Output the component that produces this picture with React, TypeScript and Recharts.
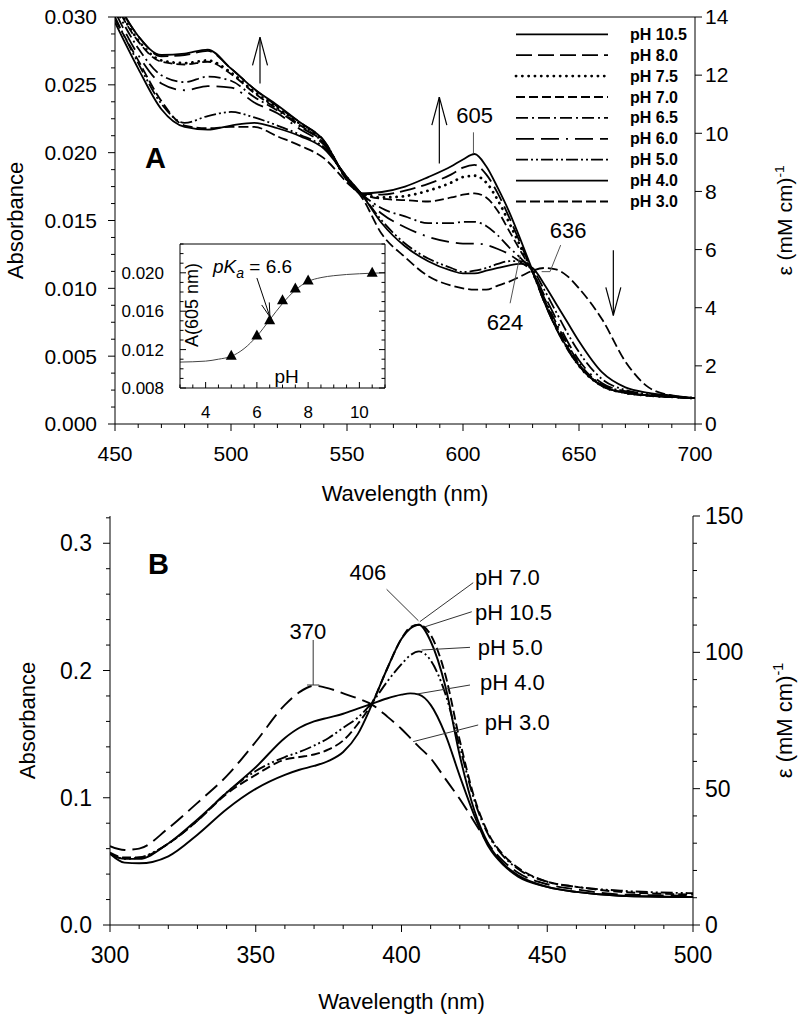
import React from 'react';
import { LineChart, Line, XAxis, YAxis, ComposedChart, Scatter } from 'recharts';

const FONT = '"Liberation Sans", Arial, Helvetica, sans-serif';

// ---------------- Panel A (visible region) ----------------
const wavelengthsA = [450, 460, 470, 480, 490, 500, 510, 520, 530, 540, 550, 556, 565, 575, 585, 595, 600, 605, 610, 615, 620, 625, 630, 635, 640, 645, 650, 660, 670, 680, 690, 700];
const absA_pH105 = [0.0314, 0.0286, 0.0272, 0.0273, 0.0276, 0.0262, 0.0247, 0.0235, 0.0222, 0.0209, 0.0180, 0.0170, 0.0171, 0.0175, 0.0182, 0.0190, 0.0195, 0.0199, 0.0190, 0.0174, 0.0156, 0.0135, 0.0113, 0.0090, 0.0071, 0.0056, 0.0043, 0.0028, 0.0023, 0.0021, 0.0020, 0.0019];
const absA_pH80 = [0.0313, 0.0286, 0.0271, 0.0272, 0.0275, 0.0262, 0.0247, 0.0234, 0.0222, 0.0209, 0.0180, 0.0170, 0.0169, 0.0172, 0.0177, 0.0184, 0.0189, 0.0191, 0.0184, 0.0170, 0.0152, 0.0132, 0.0112, 0.0090, 0.0071, 0.0055, 0.0043, 0.0028, 0.0023, 0.0021, 0.0020, 0.0019];
const absA_pH75 = [0.0311, 0.0283, 0.0268, 0.0266, 0.0268, 0.0259, 0.0245, 0.0233, 0.0221, 0.0208, 0.0180, 0.0170, 0.0167, 0.0168, 0.0172, 0.0178, 0.0182, 0.0183, 0.0178, 0.0165, 0.0148, 0.0130, 0.0112, 0.0091, 0.0072, 0.0056, 0.0043, 0.0028, 0.0023, 0.0021, 0.0020, 0.0019];
const absA_pH70 = [0.0310, 0.0282, 0.0267, 0.0265, 0.0267, 0.0258, 0.0244, 0.0232, 0.0220, 0.0207, 0.0180, 0.0170, 0.0166, 0.0165, 0.0164, 0.0167, 0.0169, 0.0170, 0.0167, 0.0157, 0.0142, 0.0127, 0.0112, 0.0092, 0.0073, 0.0057, 0.0044, 0.0028, 0.0023, 0.0021, 0.0020, 0.0019];
const absA_pH65 = [0.0307, 0.0277, 0.0257, 0.0252, 0.0256, 0.0253, 0.0241, 0.0231, 0.0219, 0.0207, 0.0181, 0.0170, 0.0159, 0.0153, 0.0148, 0.0148, 0.0149, 0.0149, 0.0146, 0.0139, 0.0130, 0.0122, 0.0112, 0.0093, 0.0075, 0.0059, 0.0045, 0.0029, 0.0024, 0.0021, 0.0020, 0.0019];
const absA_pH60 = [0.0304, 0.0272, 0.0251, 0.0246, 0.0249, 0.0248, 0.0237, 0.0229, 0.0217, 0.0206, 0.0181, 0.0170, 0.0155, 0.0145, 0.0138, 0.0134, 0.0133, 0.0133, 0.0132, 0.0129, 0.0125, 0.0119, 0.0112, 0.0095, 0.0078, 0.0061, 0.0047, 0.0030, 0.0024, 0.0021, 0.0020, 0.0019];
const absA_pH50 = [0.0300, 0.0266, 0.0236, 0.0222, 0.0227, 0.0230, 0.0226, 0.0220, 0.0213, 0.0204, 0.0182, 0.0170, 0.0150, 0.0133, 0.0122, 0.0115, 0.0112, 0.0113, 0.0115, 0.0118, 0.0120, 0.0120, 0.0114, 0.0099, 0.0083, 0.0067, 0.0053, 0.0033, 0.0025, 0.0022, 0.0020, 0.0019];
const absA_pH40 = [0.0296, 0.0262, 0.0232, 0.0219, 0.0217, 0.0220, 0.0222, 0.0218, 0.0212, 0.0203, 0.0182, 0.0170, 0.0148, 0.0131, 0.0120, 0.0113, 0.0111, 0.0111, 0.0113, 0.0115, 0.0117, 0.0118, 0.0115, 0.0103, 0.0089, 0.0075, 0.0061, 0.0038, 0.0027, 0.0023, 0.0021, 0.0019];
const absA_pH30 = [0.0298, 0.0268, 0.0238, 0.0220, 0.0218, 0.0219, 0.0219, 0.0212, 0.0205, 0.0196, 0.0178, 0.0168, 0.0140, 0.0123, 0.0109, 0.0102, 0.0100, 0.0099, 0.0099, 0.0102, 0.0105, 0.0109, 0.0113, 0.0115, 0.0114, 0.0109, 0.0100, 0.0077, 0.0046, 0.0027, 0.0021, 0.0019];

// inset: A(605 nm) vs pH
const insetPH = [5.0, 6.0, 6.5, 7.0, 7.5, 8.0, 10.5];
const insetA605 = [0.01137, 0.01346, 0.01506, 0.01715, 0.01837, 0.0192, 0.0200];
const fitPH = [3, 4, 4.5, 5, 5.5, 6, 6.5, 7, 7.5, 8, 8.5, 9, 10, 11];
const fitA605 = [0.0107, 0.0108, 0.0110, 0.0113, 0.0121, 0.0134, 0.0151, 0.0168, 0.0182, 0.0191, 0.0195, 0.0197, 0.0199, 0.0200];

// ---------------- Panel B (Soret region) ----------------
const wavelengthsB = [300, 305, 310, 320, 330, 340, 350, 360, 365, 370, 375, 380, 385, 390, 395, 400, 403, 406, 410, 415, 420, 425, 430, 435, 440, 450, 460, 475, 500];
const absB_pH70 = [0.057, 0.053, 0.053, 0.064, 0.082, 0.103, 0.118, 0.130, 0.132, 0.134, 0.138, 0.145, 0.158, 0.175, 0.201, 0.225, 0.234, 0.236, 0.228, 0.197, 0.145, 0.100, 0.071, 0.055, 0.045, 0.034, 0.030, 0.026, 0.024];
const absB_pH105 = [0.056, 0.049, 0.0485, 0.054, 0.071, 0.091, 0.107, 0.118, 0.122, 0.125, 0.129, 0.136, 0.150, 0.174, 0.201, 0.225, 0.233, 0.236, 0.223, 0.188, 0.133, 0.090, 0.063, 0.048, 0.039, 0.030, 0.026, 0.023, 0.022];
const absB_pH50 = [0.056, 0.052, 0.053, 0.064, 0.082, 0.104, 0.121, 0.132, 0.136, 0.141, 0.147, 0.155, 0.163, 0.175, 0.191, 0.205, 0.212, 0.215, 0.208, 0.182, 0.140, 0.098, 0.070, 0.054, 0.044, 0.034, 0.030, 0.027, 0.025];
const absB_pH40 = [0.056, 0.052, 0.052, 0.064, 0.083, 0.104, 0.124, 0.147, 0.155, 0.160, 0.163, 0.166, 0.170, 0.174, 0.178, 0.181, 0.182, 0.181, 0.173, 0.150, 0.117, 0.086, 0.061, 0.047, 0.038, 0.030, 0.026, 0.023, 0.022];
const absB_pH30 = [0.062, 0.059, 0.060, 0.076, 0.096, 0.117, 0.144, 0.173, 0.183, 0.188, 0.186, 0.182, 0.178, 0.173, 0.164, 0.154, 0.147, 0.140, 0.131, 0.115, 0.099, 0.081, 0.063, 0.050, 0.041, 0.032, 0.028, 0.024, 0.023];

// ---------------- tick labels ----------------
const yMajorA = [0, 0.005, 0.01, 0.015, 0.02, 0.025, 0.03];
const epsMajorA = [0, 2, 4, 6, 8, 10, 12, 14];
const xMajorA = [450, 500, 550, 600, 650, 700];
const yMajorB = [0, 0.1, 0.2, 0.3];
const epsMajorB = [0, 50, 100, 150];
const xMajorB = [300, 350, 400, 450, 500];
const xMajorI = [4, 6, 8, 10];
const yMajorI = [0.008, 0.012, 0.016, 0.02];

const range = (a: number, b: number, step: number) => {
  const out: number[] = [];
  const n = Math.round((b - a) / step);
  for (let i = 0; i <= n; i++) out.push(+(a + i * step).toFixed(6));
  return out;
};

const seriesA = [
  { key: 'ph105', name: 'pH 10.5', values: absA_pH105, dash: undefined as string | undefined, w: 1.8, cap: 'butt' },
  { key: 'ph80', name: 'pH 8.0', values: absA_pH80, dash: '16 6', w: 1.8, cap: 'butt' },
  { key: 'ph75', name: 'pH 7.5', values: absA_pH75, dash: '0.1 6.2', w: 2.8, cap: 'round' },
  { key: 'ph70', name: 'pH 7.0', values: absA_pH70, dash: '9 4', w: 1.8, cap: 'butt' },
  { key: 'ph65', name: 'pH 6.5', values: absA_pH65, dash: '12 4 2 4', w: 1.8, cap: 'butt' },
  { key: 'ph60', name: 'pH 6.0', values: absA_pH60, dash: '18 7 18 7 2 7', w: 1.8, cap: 'butt' },
  { key: 'ph50', name: 'pH 5.0', values: absA_pH50, dash: '12 3 2 3 2 3', w: 1.8, cap: 'butt' },
  { key: 'ph40', name: 'pH 4.0', values: absA_pH40, dash: undefined, w: 1.8, cap: 'butt' },
  { key: 'ph30', name: 'pH 3.0', values: absA_pH30, dash: '10 4', w: 1.8, cap: 'butt' },
];
const tableA = wavelengthsA.map((nm, i) => {
  const row: any = { nm };
  seriesA.forEach((s) => (row[s.key] = s.values[i]));
  return row;
});

const seriesB = [
  { key: 'ph70', values: absB_pH70, dash: '9 4' as string | undefined },
  { key: 'ph105', values: absB_pH105, dash: undefined },
  { key: 'ph50', values: absB_pH50, dash: '12 3 2 3 2 3' },
  { key: 'ph40', values: absB_pH40, dash: undefined },
  { key: 'ph30', values: absB_pH30, dash: '16 7' },
];
const tableB = wavelengthsB.map((nm, i) => {
  const row: any = { nm };
  seriesB.forEach((s) => (row[s.key] = s.values[i]));
  return row;
});

const insetPoints = insetPH.map((ph, i) => ({ ph, a: insetA605[i] }));
const insetFit = fitPH.map((ph, i) => ({ ph, a: fitA605[i] }));

// ---------------- tick renderer ----------------
type TickCfg = {
  side: 'left' | 'right' | 'bottom' | 'top';
  pos: number;
  majors: number[];
  majorLen: number;
  minorLen: number;
  inward?: boolean;
  fmt?: (v: number) => string;
  labelPos?: number;
  fs?: number;
};
const makeTick = (c: TickCfg) => (props: any) => {
  const { x, y, payload } = props;
  const v = Number(payload.value);
  const maj = c.majors.some((m) => Math.abs(m - v) < 1e-7);
  const len = maj ? c.majorLen : c.minorLen;
  const fs = c.fs || 20;
  let ln: any = null;
  let tx: any = null;
  if (c.side === 'left') {
    ln = <line x1={c.pos} y1={y} x2={c.pos + (c.inward ? len : -len)} y2={y} stroke="#000" strokeWidth={1} />;
    if (maj && c.fmt) tx = <text x={c.labelPos} y={y + fs * 0.35} textAnchor="end" fontSize={fs} fill="#000" fontFamily={FONT}>{c.fmt(v)}</text>;
  } else if (c.side === 'right') {
    ln = <line x1={c.pos} y1={y} x2={c.pos + (c.inward ? -len : len)} y2={y} stroke="#000" strokeWidth={1} />;
    if (maj && c.fmt) tx = <text x={c.labelPos} y={y + fs * 0.35} textAnchor="start" fontSize={fs} fill="#000" fontFamily={FONT}>{c.fmt(v)}</text>;
  } else if (c.side === 'bottom') {
    ln = <line x1={x} y1={c.pos} x2={x} y2={c.pos + (c.inward ? -len : len)} stroke="#000" strokeWidth={1} />;
    if (maj && c.fmt) tx = <text x={x} y={c.labelPos} textAnchor="middle" fontSize={fs} fill="#000" fontFamily={FONT}>{c.fmt(v)}</text>;
  } else {
    ln = <line x1={x} y1={c.pos} x2={x} y2={c.pos + (c.inward ? len : -len)} stroke="#000" strokeWidth={1} />;
  }
  return (
    <g>
      {ln}
      {tx}
    </g>
  );
};

const AX = { stroke: '#000', strokeWidth: 1 };

// panel A geometry (page px)
const A_L = 115, A_R = 695, A_T = 17, A_B = 424;
const xA = (nm: number) => A_L + ((nm - 450) / 250) * (A_R - A_L);
const yA = (a: number) => A_B - (a / 0.03) * (A_B - A_T);
// inset geometry
const I_L = 180, I_R = 385, I_T = 244, I_B = 388;
const xI = (ph: number) => I_L + ((ph - 3) / 8) * (I_R - I_L);
const yI = (a: number) => I_B - ((a - 0.008) / 0.015) * (I_B - I_T);
// panel B geometry
const B_TOP = 490;
const B_L = 110, B_R = 693, B_T = 516, B_B = 925;
const B_MAX = 150 / 466.67;
const xB = (nm: number) => B_L + ((nm - 300) / 200) * (B_R - B_L);
const yB = (a: number) => B_B - (a / B_MAX) * (B_B - B_T);

const Arrow = ({ x, y1, y2 }: { x: number; y1: number; y2: number }) => {
  const d = y1 > y2 ? 1 : -1;
  return (
    <g stroke="#000" strokeWidth={1.2} fill="none">
      <line x1={x} y1={y1} x2={x} y2={y2} />
      <line x1={x} y1={y2} x2={x - 7.5} y2={y2 + d * 28} />
      <line x1={x} y1={y2} x2={x + 7.5} y2={y2 + d * 28} />
    </g>
  );
};

const Triangle = (props: any) => {
  const { cx, cy } = props;
  return <polygon points={`${cx},${cy - 6} ${cx - 5.5},${cy + 4} ${cx + 5.5},${cy + 4}`} fill="#000" />;
};

const Eps = ({ x, y, fs }: { x: number; y: number; fs: number }) => (
  <text x={x} y={y} transform={`rotate(-90, ${x}, ${y})`} textAnchor="middle" fontSize={fs} fill="#000" fontFamily={FONT}>
    ε (mM cm)
    <tspan dy={-fs * 0.4} fontSize={fs * 0.65}>-1</tspan>
  </text>
);

export default function App() {
  const pkaFrom = { x: xI(6.0), y: yI(0.01946) };
  const pkaTo = { x: xI(6.51), y: yI(0.0154) };
  const ang = Math.atan2(pkaTo.y - pkaFrom.y, pkaTo.x - pkaFrom.x);
  const wing = (s: number) => ({
    x: pkaTo.x - 14 * Math.cos(ang) + s * 4 * Math.sin(ang),
    y: pkaTo.y - 14 * Math.sin(ang) - s * 4 * Math.cos(ang),
  });
  const w1 = wing(1), w2 = wing(-1);

  return (
    <div style={{ position: 'absolute', left: 0, top: 0, width: 800, height: 1025, background: '#fff', fontFamily: FONT }}>
      {/* Panel A */}
      <div style={{ position: 'absolute', left: 0, top: 0 }}>
        <LineChart width={800} height={510} data={tableA} margin={{ top: 0, right: 0, bottom: 0, left: 0 }}>
          <XAxis dataKey="nm" type="number" domain={[450, 700]} ticks={range(450, 700, 10)} interval={0} height={86} axisLine={AX} tickLine={false} allowDataOverflow
            tick={makeTick({ side: 'bottom', pos: A_B, majors: xMajorA, majorLen: 7, minorLen: 4, fmt: (v) => String(v), labelPos: 461, fs: 21 })} />
          <XAxis xAxisId="top" orientation="top" type="number" domain={[450, 700]} ticks={range(450, 700, 10)} interval={0} height={17} axisLine={AX} tickLine={false} allowDataOverflow
            tick={makeTick({ side: 'top', pos: A_T, majors: xMajorA, majorLen: 7, minorLen: 5, inward: true })} />
          <YAxis type="number" domain={[0, 0.03]} ticks={range(0, 0.03, 0.00125)} interval={0} width={115} axisLine={AX} tickLine={false} allowDataOverflow
            tick={makeTick({ side: 'left', pos: A_L, majors: yMajorA, majorLen: 7, minorLen: 4, fmt: (v) => v.toFixed(3), labelPos: 97, fs: 21 })} />
          <YAxis yAxisId="eps" orientation="right" type="number" domain={[0, 14]} ticks={epsMajorA} interval={0} width={105} axisLine={AX} tickLine={false} allowDataOverflow
            tick={makeTick({ side: 'right', pos: A_R, majors: epsMajorA, majorLen: 7, minorLen: 4, fmt: (v) => String(v), labelPos: 705, fs: 21 })} />
          {seriesA.map((s) => (
            <Line key={s.key} dataKey={s.key} type="monotone" stroke="#000" strokeWidth={s.w} strokeDasharray={s.dash} strokeLinecap={s.cap as any} dot={false} activeDot={false} isAnimationActive={false} />
          ))}
        </LineChart>
      </div>

      {/* Inset */}
      <div style={{ position: 'absolute', left: 100, top: 234 }}>
        <ComposedChart width={295} height={200} margin={{ top: 0, right: 0, bottom: 0, left: 0 }}>
          <XAxis dataKey="ph" type="number" domain={[3, 11]} ticks={range(3, 11, 0.5)} interval={0} height={46} axisLine={AX} tickLine={false} allowDataOverflow
            tick={makeTick({ side: 'bottom', pos: I_B - 234, majors: xMajorI, majorLen: 6, minorLen: 3.5, inward: true, fmt: (v) => String(v), labelPos: 418 - 234, fs: 17 })} />
          <XAxis xAxisId="t" orientation="top" type="number" domain={[3, 11]} ticks={range(3, 11, 0.5)} interval={0} height={10} axisLine={AX} tickLine={false} allowDataOverflow
            tick={makeTick({ side: 'top', pos: I_T - 234, majors: xMajorI, majorLen: 6, minorLen: 3.5, inward: true })} />
          <YAxis type="number" domain={[0.008, 0.023]} ticks={range(0.008, 0.023, 0.001)} interval={0} width={80} axisLine={AX} tickLine={false} allowDataOverflow
            tick={makeTick({ side: 'left', pos: I_L - 100, majors: yMajorI, majorLen: 6, minorLen: 3.5, inward: true, fmt: (v) => v.toFixed(3), labelPos: 164 - 100, fs: 17 })} />
          <YAxis yAxisId="r" orientation="right" type="number" domain={[0.008, 0.023]} ticks={range(0.008, 0.023, 0.001)} interval={0} width={10} axisLine={AX} tickLine={false} allowDataOverflow
            tick={makeTick({ side: 'right', pos: I_R - 100, majors: yMajorI, majorLen: 6, minorLen: 3.5, inward: true })} />
          <Line data={insetFit} dataKey="a" type="monotone" stroke="#444" strokeWidth={1} dot={false} activeDot={false} isAnimationActive={false} />
          <Scatter data={insetPoints} dataKey="a" shape={Triangle} isAnimationActive={false} />
        </ComposedChart>
      </div>

      {/* Panel B */}
      <div style={{ position: 'absolute', left: 0, top: B_TOP }}>
        <LineChart width={800} height={1025 - B_TOP} data={tableB} margin={{ top: B_T - B_TOP, right: 0, bottom: 0, left: 0 }}>
          <XAxis dataKey="nm" type="number" domain={[300, 500]} ticks={range(300, 500, 10)} interval={0} height={1025 - B_B} axisLine={AX} tickLine={false} allowDataOverflow
            tick={makeTick({ side: 'bottom', pos: B_B - B_TOP, majors: xMajorB, majorLen: 7, minorLen: 4, fmt: (v) => String(v), labelPos: 963 - B_TOP, fs: 23 })} />
          <YAxis type="number" domain={[0, B_MAX]} ticks={range(0, 0.32, 0.02)} interval={0} width={B_L} axisLine={AX} tickLine={false} allowDataOverflow
            tick={makeTick({ side: 'left', pos: B_L, majors: yMajorB, majorLen: 7, minorLen: 4, fmt: (v) => v.toFixed(1), labelPos: 92, fs: 23 })} />
          <YAxis yAxisId="eps" orientation="right" type="number" domain={[0, 150]} ticks={range(0, 150, 10)} interval={0} width={800 - B_R} axisLine={AX} tickLine={false} allowDataOverflow
            tick={makeTick({ side: 'right', pos: B_R, majors: epsMajorB, majorLen: 7, minorLen: 4, fmt: (v) => String(v), labelPos: 705, fs: 23 })} />
          {seriesB.map((s) => (
            <Line key={s.key} dataKey={s.key} type="monotone" stroke="#000" strokeWidth={1.9} strokeDasharray={s.dash} dot={false} activeDot={false} isAnimationActive={false} />
          ))}
        </LineChart>
      </div>

      {/* Annotations */}
      <svg width={800} height={1025} style={{ position: 'absolute', left: 0, top: 0, pointerEvents: 'none' }} fontFamily={FONT}>
        {/* Panel A titles */}
        <text x={23} y={(A_T + A_B) / 2} transform={`rotate(-90, 23, ${(A_T + A_B) / 2})`} textAnchor="middle" fontSize={22} fill="#000">Absorbance</text>
        <Eps x={792} y={(A_T + A_B) / 2} fs={21} />
        <text x={(A_L + A_R) / 2} y={501} textAnchor="middle" fontSize={22} fill="#000">Wavelength (nm)</text>
        <text x={xA(462.9)} y={yA(0.01887)} fontSize={29} fontWeight="bold" fill="#000">A</text>

        {/* Panel A arrows and labels */}
        <Arrow x={xA(512.5)} y1={yA(0.0251)} y2={yA(0.0285)} />
        <Arrow x={xA(589.8)} y1={yA(0.0192)} y2={yA(0.0241)} />
        <Arrow x={xA(664.8)} y1={yA(0.0128)} y2={yA(0.0080)} />
        <text x={xA(605)} y={yA(0.02219)} textAnchor="middle" fontSize={22} fill="#000">605</text>
        <line x1={xA(604.5)} y1={yA(0.0215)} x2={xA(604.5)} y2={yA(0.01995)} stroke="#555" strokeWidth={1} />
        <text x={xA(645.3)} y={yA(0.01371)} textAnchor="middle" fontSize={22} fill="#000">636</text>
        <polyline points={`${xA(642.1)},${yA(0.01319)} ${xA(637.5)},${yA(0.01123)} ${xA(633.9)},${yA(0.01123)}`} fill="none" stroke="#555" strokeWidth={1} />
        <text x={xA(618.1)} y={yA(0.00693)} textAnchor="middle" fontSize={22} fill="#000">624</text>
        <line x1={xA(620.3)} y1={yA(0.0089)} x2={xA(624.6)} y2={yA(0.01246)} stroke="#555" strokeWidth={1} />

        {/* Legend */}
        {seriesA.map((s, i) => {
          const cy = 34.3 + i * 20.9;
          return (
            <g key={s.key}>
              <line x1={516} y1={cy} x2={608} y2={cy} stroke="#000" strokeWidth={s.w} strokeDasharray={s.dash} strokeLinecap={s.cap as any} />
              <text x={630} y={cy + 5.5} fontSize={16} fontWeight="bold" fill="#000">{s.name}</text>
            </g>
          );
        })}

        {/* Inset annotations */}
        <text x={xI(4.29)} y={yI(0.01998)} fontSize={19} fill="#000">
          <tspan fontStyle="italic">pK</tspan>
          <tspan fontStyle="italic" fontSize={14} dy={5}>a</tspan>
          <tspan dy={-5}> = 6.6</tspan>
        </text>
        <g stroke="#000" strokeWidth={1} fill="none">
          <line x1={pkaFrom.x} y1={pkaFrom.y} x2={pkaTo.x} y2={pkaTo.y} />
          <line x1={pkaTo.x} y1={pkaTo.y} x2={w1.x} y2={w1.y} />
          <line x1={pkaTo.x} y1={pkaTo.y} x2={w2.x} y2={w2.y} />
        </g>
        <text x={xI(3.7)} y={yI(0.01665)} transform={`rotate(-90, ${xI(3.7)}, ${yI(0.01665)})`} textAnchor="middle" fontSize={18} fill="#000">A(605 nm)</text>
        <text x={xI(7.16)} y={yI(0.00852)} textAnchor="middle" fontSize={19} fill="#000">pH</text>

        {/* Panel B titles */}
        <text x={35} y={(B_T + B_B) / 2} transform={`rotate(-90, 35, ${(B_T + B_B) / 2})`} textAnchor="middle" fontSize={22} fill="#000">Absorbance</text>
        <Eps x={792} y={(B_T + B_B) / 2} fs={22} />
        <text x={(B_L + B_R) / 2} y={1009} textAnchor="middle" fontSize={22} fill="#000">Wavelength (nm)</text>
        <text x={xB(313)} y={yB(0.2759)} fontSize={29} fontWeight="bold" fill="#000">B</text>

        {/* Panel B labels */}
        <text x={xB(367.9)} y={yB(0.2248)} textAnchor="middle" fontSize={22} fill="#000">370</text>
        <g stroke="#333" strokeWidth={1}>
          <line x1={xB(369.7)} y1={yB(0.224)} x2={xB(369.7)} y2={yB(0.1886)} />
          <line x1={xB(367.6)} y1={yB(0.1886)} x2={xB(371.8)} y2={yB(0.1886)} />
          <line x1={xB(394.9)} y1={yB(0.2638)} x2={xB(405.8)} y2={yB(0.2391)} />
          <line x1={xB(424.6)} y1={yB(0.269)} x2={xB(406.3)} y2={yB(0.2384)} />
          <line x1={xB(424.1)} y1={yB(0.2462)} x2={xB(408.1)} y2={yB(0.2344)} />
          <line x1={xB(423.5)} y1={yB(0.2182)} x2={xB(406.9)} y2={yB(0.2161)} />
          <line x1={xB(423.5)} y1={yB(0.1886)} x2={xB(405.2)} y2={yB(0.1815)} />
          <line x1={xB(426.3)} y1={yB(0.1572)} x2={xB(404)} y2={yB(0.1441)} />
        </g>
        <text x={xB(388.5)} y={yB(0.2711)} textAnchor="middle" fontSize={22} fill="#000">406</text>
        <text x={xB(425.2)} y={yB(0.2672)} fontSize={22} fill="#000">pH 7.0</text>
        <text x={xB(425.2)} y={yB(0.2397)} fontSize={22} fill="#000">pH 10.5</text>
        <text x={xB(426.2)} y={yB(0.2122)} fontSize={22} fill="#000">pH 5.0</text>
        <text x={xB(426.9)} y={yB(0.1847)} fontSize={22} fill="#000">pH 4.0</text>
        <text x={xB(428.6)} y={yB(0.1533)} fontSize={22} fill="#000">pH 3.0</text>
      </svg>
    </div>
  );
}
